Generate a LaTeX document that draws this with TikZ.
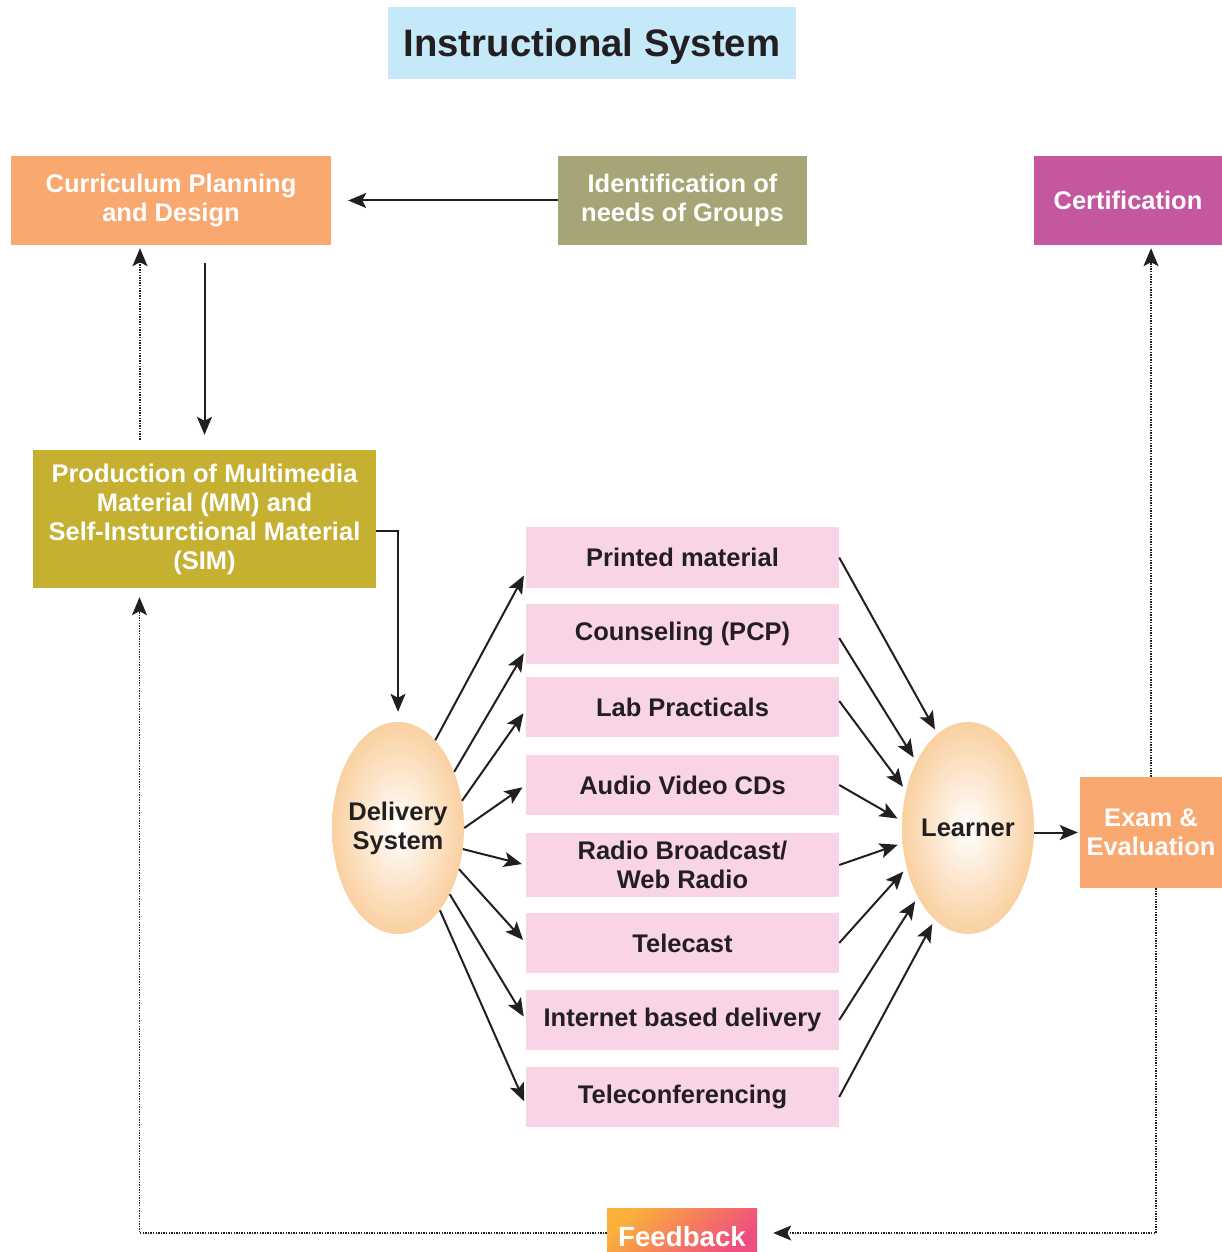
\documentclass[tikz,border=0pt]{standalone}
\usepackage{fontspec}
\setmainfont{Liberation Sans}
\usetikzlibrary{arrows.meta,shapes.geometric}

\definecolor{titleblue}{HTML}{C6E9F9}
\definecolor{planorange}{HTML}{F9A870}
\definecolor{needsolive}{HTML}{A7A575}
\definecolor{certmagenta}{HTML}{C5579F}
\definecolor{prodyellow}{HTML}{C6B032}
\definecolor{mediapink}{HTML}{F9D3E6}
\definecolor{ovalpeach}{HTML}{FAD0A0}
\definecolor{fborange}{HTML}{FBB03B}
\definecolor{fbpink}{HTML}{EF4F7E}
\definecolor{inkblack}{HTML}{231F20}

\begin{document}
\begin{tikzpicture}[x=1pt,y=-1pt,
    txt/.style={font=\fontsize{25.5}{29}\selectfont\bfseries},
    box/.style={txt, rectangle, inner sep=2pt, align=center, text=white},
    media/.style={txt, rectangle, fill=mediapink, minimum width=313pt, inner sep=2pt, align=center, text=inkblack},
    oval/.style={txt, ellipse, minimum width=132pt, minimum height=212pt, inner ysep=0pt, inner xsep=-6pt,
      inner color=white, outer color=ovalpeach, align=center, text=inkblack},
    flow/.style={draw=inkblack, line width=2pt, -{Stealth[length=18pt,width=15pt,inset=4pt]}},
    dotflow/.style={flow, line width=1.5pt, dash pattern=on 1.4pt off 1.2pt}]
  \useasboundingbox (0,0) rectangle (1222,1252);

  % title
  \node[rectangle, fill=titleblue, minimum width=408pt, minimum height=72pt, text=inkblack, text depth=0pt,
    font=\fontsize{38.3}{44}\selectfont\bfseries] (title) at (592,43) {Instructional System};

  % top row
  \node[box, fill=planorange, minimum width=320pt, minimum height=89pt] (plan) at (171,200.5)
    {Curriculum Planning\\and Design};
  \node[box, fill=needsolive, minimum width=249pt, minimum height=89pt] (needs) at (682.5,200.5)
    {Identification of\\needs of Groups};
  \node[box, fill=certmagenta, minimum width=188pt, minimum height=89pt] (cert) at (1128,200.5)
    {Certification};

  % production
  \node[box, fill=prodyellow, minimum width=343pt, minimum height=138pt] (prod) at (204.5,519)
    {Production of Multimedia\\Material (MM) and\\Self-Insturctional Material\\(SIM)};

  % delivery and learner
  \node[oval] (deliv) at (398,828) {Delivery\\System};
  \node[oval] (learner) at (968,828) {Learner};
  \node[box, fill=planorange, minimum width=142pt, minimum height=111pt, inner sep=0pt] (exam) at (1151,832.5)
    {Exam \&\\Evaluation};

  % feedback
  \node[box, top color=fborange, bottom color=fbpink, shading angle=45, minimum width=150pt,
    minimum height=44pt, text height=32pt, text depth=0pt,
    font=\fontsize{27.7}{32}\selectfont\bfseries] (feedback) at (682,1230) {Feedback};

  % media
  \foreach \n/\y/\h/\t in {m1/557.5/61/Printed material, m2/634/60/Counseling (PCP),
      m3/707/60/Lab Practicals, m4/785/60/Audio Video CDs, m5/865/64/{Radio Broadcast/\\Web Radio},
      m6/943/60/Telecast, m7/1020/60/Internet based delivery, m8/1097/60/Teleconferencing}
    \node[media, minimum height=\h pt] (\n) at (682.5,\y) {\t};

  % connectors
  \draw[flow, shorten >=17pt] (needs) -- (plan);
  \draw[flow, shorten <=18pt, shorten >=15pt] (prod.north |- plan.south) -- (prod.north);
  \draw[dotflow, shorten <=10pt, shorten >=3pt] ([xshift=-31pt]plan.south |- prod.north) -- ([xshift=-31pt]plan.south);
  \draw[flow, shorten >=10pt] ([yshift=-12pt]prod.east) -| (deliv.north);

  \foreach \n/\a/\dy in {m1/67/-14.5, m2/45.5/-16, m3/23.6/-3, m4/0/0, m5/-18/0, m6/-34/0, m7/-52/0, m8/-63/-8}
    \draw[flow, shorten >=4pt] (deliv.\a) -- ([yshift=\dy pt]\n.west);
  \foreach \n/\a/\dy in {m1/108/0, m2/128/-4, m3/149/6, m4/174/0, m5/193/0, m6/213/0, m7/234/0, m8/250/0}
    \draw[flow, shorten >=5pt] ([yshift=\dy pt]\n.east) -- (learner.\a);

  \draw[flow, shorten >=2pt] (learner.east |- exam.west) -- (exam.west);
  \draw[dotflow, shorten >=3pt] (exam.north) -- (exam.north |- cert.south);
  \draw[dotflow, shorten >=16pt] ([xshift=5pt]exam.south) |- ([yshift=-3pt]feedback.east);
  \draw[dotflow, shorten >=9pt] ([yshift=-3pt]feedback.west) -| ([xshift=-65pt]prod.south);
\end{tikzpicture}
\end{document}
